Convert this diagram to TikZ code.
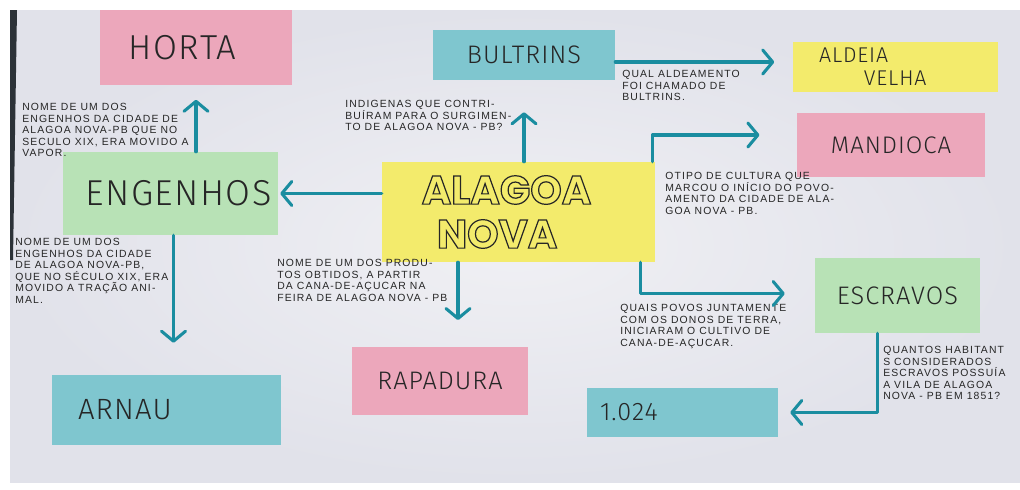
\documentclass[tikz,border=0pt]{standalone}
\usepackage{fontspec}
\setmainfont{Liberation Sans}
\newfontfamily\handfont{Liberation Sans}[LetterSpace=11]
\newfontfamily\cardfont{Fira Sans Light}[LetterSpace=4]
\newfontfamily\bubblefont{Poppins}
\usetikzlibrary{arrows.meta,calc}

\definecolor{paper}{HTML}{E1E2EA}
\definecolor{paperlight}{HTML}{F0F0F4}
\definecolor{tapeedge}{HTML}{2C3238}
\definecolor{pinkcard}{HTML}{ECA7BB}
\definecolor{cyancard}{HTML}{7FC6CF}
\definecolor{yellowcard}{HTML}{F3EB6C}
\definecolor{greencard}{HTML}{B8E2B6}
\definecolor{marker}{HTML}{1A8DA0}
\definecolor{pen}{HTML}{262626}

% hollow (outlined) lettering for the central title
\newcommand{\hollowtext}[1]{\special{pdf:literal direct 1 Tr 0.9 w}#1\special{pdf:literal direct 0 Tr}}

\tikzset{
  card/.style={draw=none, inner sep=0pt, text=pen},
  cardfs/.style={font=\cardfont\fontsize{#1}{#1}\selectfont},
  note/.style={anchor=north west, inner sep=0pt, align=left, text=pen,
    font=\handfont\fontsize{7.8}{8.7}\selectfont},
  arr/.style={draw=marker, line width=2.3pt, line cap=round, line join=round,
    -{Straight Barb[length=7.5pt,width=18pt,round]}},
}

\begin{document}
\begin{tikzpicture}[x=0.75pt,y=-0.75pt]
\useasboundingbox (0,0) rectangle (1020,489);
\fill[white] (0,0) rectangle (1020,489);
% sheet of paper
\shade[inner color=paperlight, outer color=paper] (10,10) rectangle (1020,482);
\fill[tapeedge] (10,10) -- (17,10) -- (13,260) -- (10,260) -- cycle;

% concept cards
\node[card, fill=pinkcard, minimum width=144pt, minimum height=56pt, cardfs=26] (horta) at (196,47.5) {HORTA\hspace*{20pt}};
\node[card, fill=cyancard, minimum width=136.5pt, minimum height=37.5pt, cardfs=19] (bultrins) at (524,55) {BULTRINS};
\node[card, fill=yellowcard, minimum height=37.5pt, text width=113.75pt, inner xsep=20pt, align=left,
      font=\cardfont\fontsize{16}{17}\selectfont] (aldeia) at (895,67) {ALDEIA\\\hspace*{2.1em}VELHA};
\node[card, fill=pinkcard, minimum width=141pt, minimum height=48pt, cardfs=18] (mandioca) at (891,145) {MANDIOCA};
\node[card, fill=greencard, minimum width=161.25pt, minimum height=62.25pt, cardfs=27] (engenhos) at (170.5,193.5) {\hspace*{12pt}ENGENHOS};
\node[card, fill=yellowcard, minimum width=204.75pt, minimum height=75pt, align=center,
      font=\bubblefont\bfseries\fontsize{30}{33}\selectfont] (alagoa) at (518.5,212)
      {\hollowtext{ALAGOA}\hspace*{18pt}\\\hollowtext{NOVA}\hspace*{32pt}};
\node[card, fill=greencard, minimum width=123.75pt, minimum height=56.25pt, cardfs=19] (escravos) at (897.5,295.5) {ESCRAVOS};
\node[card, fill=cyancard, minimum height=52.5pt, text width=132.75pt, inner xsep=19.5pt, align=left, cardfs=22] (arnau) at (166.5,410) {ARNAU};
\node[card, fill=pinkcard, minimum width=132pt, minimum height=51pt, cardfs=19] (rapadura) at (440,381) {RAPADURA};
\node[card, fill=cyancard, minimum height=36.75pt, text width=123.75pt, inner xsep=9.75pt, align=left, cardfs=19] (milvinte) at (682.5,412.5) {1.024};

% linking phrases
\node[note] (q1) at (22,103) {NOME DE UM DOS\\ENGENHOS DA CIDADE DE\\ALAGOA NOVA-PB QUE NO\\SECULO XIX, ERA MOVIDO A\\VAPOR.};
\node[note] (q2) at (345,100) {INDIGENAS QUE CONTRI-\\BUÍRAM PARA O SURGIMEN-\\TO DE ALAGOA NOVA - PB?};
\node[note] (q3) at (622,70) {QUAL ALDEAMENTO\\FOI CHAMADO DE\\BULTRINS.};
\node[note] (q4) at (665,172) {OTIPO DE CULTURA QUE\\MARCOU O INÍCIO DO POVO-\\AMENTO DA CIDADE DE ALA-\\GOA NOVA - PB.};
\node[note] (q5) at (15,238) {NOME DE UM DOS\\ENGENHOS DA CIDADE\\DE ALAGOA NOVA-PB,\\QUE NO SÉCULO XIX, ERA\\MOVIDO A TRAÇÃO ANI-\\MAL.};
\node[note] (q6) at (277,259) {NOME DE UM DOS PRODU-\\TOS OBTIDOS, A PARTIR\\DA CANA-DE-AÇUCAR NA\\FEIRA DE ALAGOA NOVA - PB};
\node[note] (q7) at (620,304) {QUAIS POVOS JUNTAMENTE\\COM OS DONOS DE TERRA,\\INICIARAM O CULTIVO DE\\CANA-DE-AÇUCAR.};
\node[note] (q8) at (883,346) {QUANTOS HABITANT\\S CONSIDERADOS\\ESCRAVOS POSSUÍA\\A VILA DE ALAGOA\\NOVA - PB EM 1851?};

% connectors
\draw[arr, shorten >=11pt] (engenhos.north -| horta.south) -- (horta.south);
\draw[arr, shorten >=1.5pt] (alagoa.west |- engenhos.east) -- (engenhos.east);
\draw[arr, shorten >=24pt] (alagoa.north -| bultrins.south) -- (bultrins.south);
\draw[arr, shorten >=13.5pt] ($(bultrins.east)+(0,7)$) -- ($(aldeia.west)+(0,-5)$);
\draw[arr, shorten >=28pt] ($(alagoa.north east)+(-3,0)$) |- ($(mandioca.west)+(0,-10)$);
\draw[arr, shorten >=22.5pt] ($(alagoa.south east)+(-15,0)$) |- ($(escravos.west)+(0,-2)$);
\draw[arr, shorten >=20pt] ($(alagoa.south -| rapadura.north)+(18,0)$) -- ($(rapadura.north)+(18,0)$);
\draw[arr, shorten >=24pt] ($(engenhos.south)+(3,0)$) -- ($(arnau.north)+(7,0)$);
\draw[arr, shorten >=9pt] ($(escravos.south)+(-20,0)$) |- (milvinte.east);
\end{tikzpicture}
\end{document}
